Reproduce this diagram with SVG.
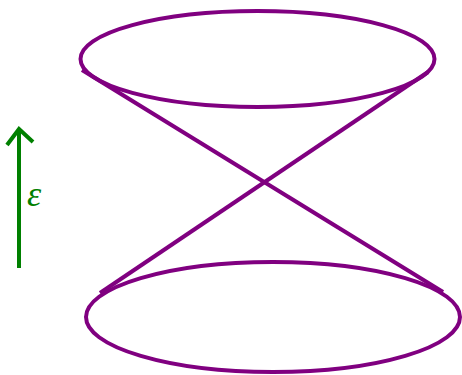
<svg xmlns="http://www.w3.org/2000/svg" width="462" height="375" viewBox="0 0 462 375">
<style>
.p{fill:none;stroke:#800080;stroke-width:4}
.g{fill:none;stroke:#008000;stroke-width:4}
.t{fill:#008000;font-family:"Liberation Serif",serif;font-style:italic;font-size:36px}
</style>
<rect width="462" height="375" fill="#fff"/>
<g id="top-ellipse"><ellipse class="p" cx="257.5" cy="59" rx="177" ry="48"/></g>
<g id="bottom-ellipse"><ellipse class="p" cx="273" cy="317" rx="187" ry="55"/></g>
<g id="connectors">
<line class="p" x1="82" y1="70" x2="443" y2="292"/>
<line class="p" x1="428" y1="72" x2="100" y2="293"/>
</g>
<g id="arrow">
<line class="g" x1="19" y1="268" x2="19" y2="130"/>
<polyline class="g" points="7,145 19,129 33,142"/>
<text class="t" x="27" y="206">ε</text>
</g>
</svg>
